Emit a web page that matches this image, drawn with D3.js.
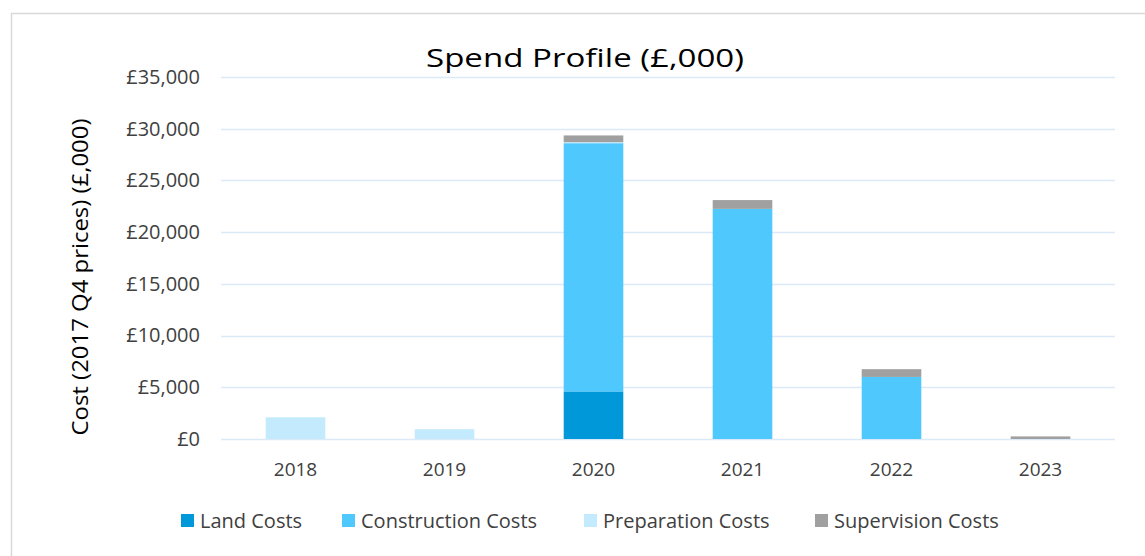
<!DOCTYPE html>
<html>
<head>
<meta charset="utf-8">
<script src="https://cdn.jsdelivr.net/npm/d3@7"></script>
<style>
  html, body { margin: 0; padding: 0; background: #fff; }
  svg { display: block; font-family: "Open Sans", sans-serif; }
</style>
</head>
<body>
<svg id="chart" width="1145" height="556"></svg>
<script>
// Spend profile by year, £,000 (2017 Q4 prices)
const years = ["2018", "2019", "2020", "2021", "2022", "2023"];
const seriesNames = ["Land Costs", "Construction Costs", "Preparation Costs", "Supervision Costs"];
const landCosts         = [0, 0, 4600, 0, 0, 0];
const constructionCosts = [0, 0, 24000, 22250, 6000, 0];
const preparationCosts  = [2100, 950, 100, 0, 0, 0];
const supervisionCosts  = [0, 0, 650, 850, 750, 250];
const yTicks = [0, 5000, 10000, 15000, 20000, 25000, 30000, 35000];
const seriesColors = ["#0098D9", "#4FC8FE", "#C4EAFD", "#A0A0A0"];

const rows = years.map((y, i) => ({
  year: y,
  "Land Costs": landCosts[i],
  "Construction Costs": constructionCosts[i],
  "Preparation Costs": preparationCosts[i],
  "Supervision Costs": supervisionCosts[i]
}));

const svg = d3.select("#chart");
const W = 1145, H = 556;
const plot = { left: 221, right: 1115, top: 77, bottom: 439 };
const textColor = "#404040";

// outer frame
svg.append("rect")
  .attr("x", 11.5).attr("y", 13.5)
  .attr("width", W + 20).attr("height", H + 20)
  .attr("fill", "#fff").attr("stroke", "#d9d9d9").attr("stroke-width", 1.5);

const x = d3.scaleBand().domain(years).range([plot.left, plot.right]).paddingInner(0.6).paddingOuter(0.3);
const y = d3.scaleLinear().domain([0, 35000]).range([plot.bottom, plot.top]);

// horizontal gridlines
svg.append("g")
  .selectAll("line")
  .data(yTicks)
  .join("line")
  .attr("x1", plot.left).attr("x2", plot.right)
  .attr("y1", d => Math.round(y(d)) + 0.5).attr("y2", d => Math.round(y(d)) + 0.5)
  .attr("stroke", "#DCE9F8").attr("stroke-width", 1.5);

// y axis labels
const yAxis = d3.axisLeft(y).tickValues(yTicks).tickSize(0).tickPadding(0)
  .tickFormat(d => "£" + d3.format(",")(d));
const gy = svg.append("g").attr("transform", `translate(200,0)`).call(yAxis);
gy.select(".domain").remove();
gy.selectAll("text").attr("fill", textColor).style("font-size", "20px").style("font-family", "'Open Sans', sans-serif");

// stacked bars
const stacked = d3.stack().keys(seriesNames)(rows);
svg.append("g")
  .selectAll("g")
  .data(stacked)
  .join("g")
  .attr("fill", (d, i) => seriesColors[i])
  .selectAll("rect")
  .data(d => d)
  .join("rect")
  .attr("x", d => x(d.data.year))
  .attr("width", x.bandwidth())
  .attr("y", d => y(d[1]))
  .attr("height", d => y(d[0]) - y(d[1]));

// x axis labels
const xAxis = d3.axisBottom(x).tickSize(0).tickPadding(0);
const gx = svg.append("g").attr("transform", `translate(0,${plot.bottom + 23})`).call(xAxis);
gx.select(".domain").remove();
gx.selectAll("text").attr("fill", textColor).style("font-size", "19px").style("font-family", "'Open Sans', sans-serif");

// title
svg.append("text")
  .attr("x", 585).attr("y", 67)
  .attr("text-anchor", "middle")
  .attr("fill", "#000")
  .attr("textLength", 318).attr("lengthAdjust", "spacingAndGlyphs")
  .style("font-size", "26px")
  .text("Spend Profile (£,000)");

// y axis title
svg.append("text")
  .attr("transform", "translate(88,277) rotate(-90)")
  .attr("text-anchor", "middle")
  .attr("fill", "#000")
  .attr("textLength", 317).attr("lengthAdjust", "spacingAndGlyphs")
  .style("font-size", "21px")
  .text("Cost (2017 Q4 prices) (£,000)");

// legend
const legendX = [181, 342, 584, 815];
const lg = svg.append("g")
  .selectAll("g")
  .data(seriesNames)
  .join("g")
  .attr("transform", (d, i) => `translate(${legendX[i]},521)`);
lg.append("rect").attr("x", 0).attr("y", -7).attr("width", 13).attr("height", 13)
  .attr("fill", (d, i) => seriesColors[i]);
lg.append("text").attr("x", 19).attr("y", 7)
  .attr("fill", textColor).style("font-size", "20px")
  .text(d => d);
</script>
</body>
</html>
